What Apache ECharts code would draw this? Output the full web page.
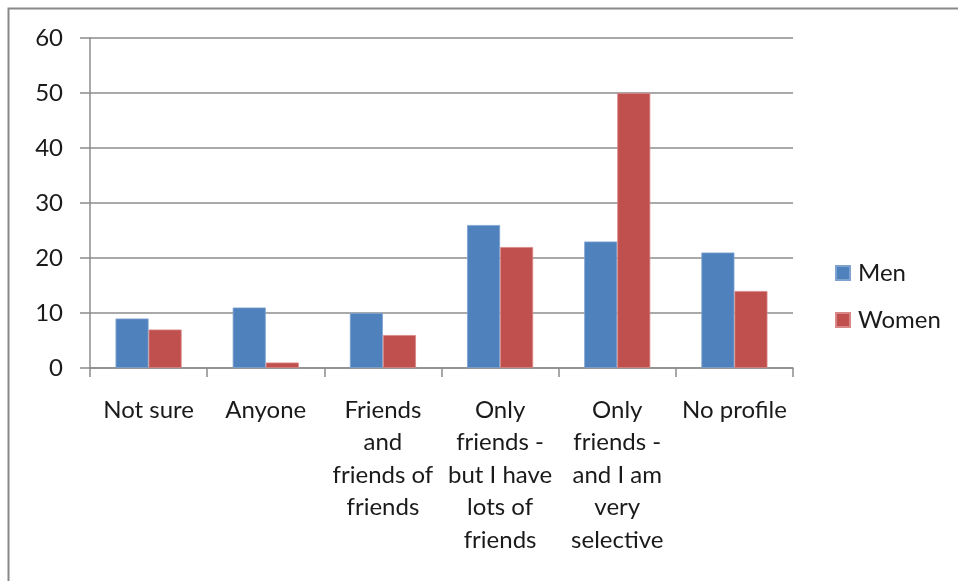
<!DOCTYPE html>
<html>
<head>
<meta charset="utf-8">
<script src="https://cdn.jsdelivr.net/npm/echarts@6/dist/echarts.min.js"></script>
<style>
html,body{margin:0;padding:0;background:#fff;}
#chart{width:958px;height:581px;}
</style>
</head>
<body>
<div id="chart"></div>
<script>
const categories = [
  "Not sure",
  "Anyone",
  "Friends\nand\nfriends of\nfriends",
  "Only\nfriends -\nbut I have\nlots of\nfriends",
  "Only\nfriends -\nand I am\nvery\nselective",
  "No profile"
];
const men = [9, 11, 10, 26, 23, 21];
const women = [7, 1, 6, 22, 50, 14];
const yTicks = { min: 0, max: 60, interval: 10 };

const chart = echarts.init(document.getElementById('chart'), null, { renderer: 'canvas' });
const font = 'Lato, "Open Sans", sans-serif';
chart.setOption({
  animation: false,
  backgroundColor: '#ffffff',
  textStyle: { fontFamily: font },
  graphic: [{
    type: 'rect',
    shape: { x: 8.5, y: 8.5, width: 1000, height: 1000 },
    style: { fill: 'none', stroke: '#898989', lineWidth: 2 },
    silent: true
  }],
  grid: { left: 90, right: 165, top: 38, bottom: 213, containLabel: false },
  legend: {
    orient: 'vertical',
    left: 830,
    top: 256,
    itemWidth: 14,
    itemHeight: 14,
    itemGap: 23,
    icon: 'rect',
    textStyle: { fontSize: 24, color: '#1a1a1a', fontFamily: font, padding: [0, 0, 0, 3] },
    data: ['Men', 'Women']
  },
  xAxis: {
    type: 'category',
    data: categories,
    axisLine: { lineStyle: { color: '#8c8c8c', width: 1.5 } },
    axisTick: { show: true, length: 9, lineStyle: { color: '#8c8c8c', width: 1.5 } },
    axisLabel: {
      interval: 0,
      margin: 26,
      fontSize: 24,
      lineHeight: 32.5,
      color: '#1a1a1a',
      fontFamily: font,
      align: 'center'
    },
    splitLine: { show: false }
  },
  yAxis: {
    type: 'value',
    min: yTicks.min,
    max: yTicks.max,
    interval: yTicks.interval,
    axisLine: { show: true, lineStyle: { color: '#8c8c8c', width: 1.5 } },
    axisTick: { show: true, length: 10, lineStyle: { color: '#8c8c8c', width: 1.5 } },
    axisLabel: { margin: 27, fontSize: 24, color: '#1a1a1a', fontFamily: font },
    splitLine: { show: true, lineStyle: { color: '#8c8c8c', width: 1.5 } }
  },
  series: [
    {
      name: 'Men',
      type: 'bar',
      data: men,
      barGap: '0%',
      barCategoryGap: '43.6%',
      itemStyle: { color: '#4F81BD', borderColor: '#7fa3d0', borderWidth: 0.8 }
    },
    {
      name: 'Women',
      type: 'bar',
      data: women,
      itemStyle: { color: '#C0504D', borderColor: '#d98886', borderWidth: 0.8 }
    }
  ]
});
</script>
</body>
</html>
